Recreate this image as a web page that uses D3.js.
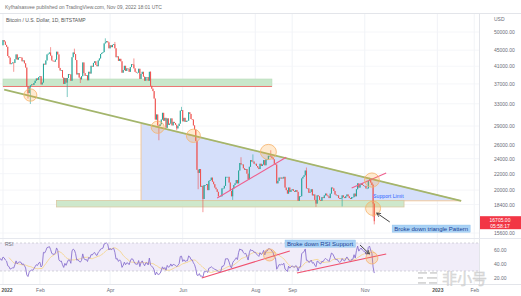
<!DOCTYPE html>
<html><head><meta charset="utf-8">
<script src="https://cdnjs.cloudflare.com/ajax/libs/d3/7.8.5/d3.min.js"></script>
<style>body{margin:0;background:#fff}svg{display:block;font-family:"Liberation Sans",Arial,sans-serif}</style>
</head><body><svg id="c" width="521" height="296"></svg>
<script>
// ---------------- DATA ----------------
const startDate = "2022-01-01";
const prevCloses = [47100,49300,50100,46700,48400,48900,47600,46200,46800,46700,46900,49000,48600,50800,50400,50800,50600,50700,47500,46500,47100,46300];
const closesJan = [47700,47300,46400,45900,43500,43100,41500,41700,41900,41800,42700,43900,42600,43100,43200,43100,42200,42400,41700,40700,36500,35100,36300,36700,36900,36800,37200,37700,38200,37900,38500];
const closesFeb = [38700,36900,37300,41600,41400,42400,43900,44100,44400,43600,42400,42200,42100,42600,44600,43900,40600,40000,40100,38400,37000,38300,37300,38300,39200,39100,37700,43200];
const closesMar = [44400,44000,42500,39100,39400,38400,38000,38700,41900,39400,38800,38900,37800,39700,39300,41100,40900,41800,42200,41300,41000,42400,42900,44000,44300,44500,46800,47100,47400,47100,45500];
const closesApr = [46300,45800,46400,46600,45500,43200,43400,42300,42800,42200,39500,40100,41100,39900,40500,40400,39700,40800,41500,41400,40500,39700,39500,39500,40400,38100,39200,39700,38600,37700];
const closesMay = [38500,38500,37700,39700,36600,36000,35500,34000,30100,31000,29100,29000,29300,30100,31300,29900,30400,28700,30300,29200,29400,30300,29100,29700,29500,29200,28600,29000,29400,31700,31800];
const closesJun = [29800,30400,29700,29900,29900,31400,31100,30200,30100,29100,28400,26600,22500,22100,22600,20400,20500,19000,20600,20600,20700,20000,21100,21200,21500,21000,20700,20300,20100,19800];
const closesJul = [19300,19300,19300,20200,20200,20500,21600,21600,21600,20900,19900,19300,20200,20600,20800,21200,20800,22400,23400,23200,23200,22700,22500,22600,22000,21300,22900,23800,23600,23600,23300];
const closesAug = [23300,23000,22800,22600,23300,23000,23200,23800,23100,23900,23900,24400,24400,24300,24100,23900,23300,23200,20800,21100,21500,21400,21500,21400,21600,20300,20000,19600,20300,19800,20000];
const closesSep = [20100,19900,19800,20000,19800,18800,19300,19300,21400,21600,21800,22400,20200,20200,19700,19800,20100,19400,19500,18900,18500,19400,19300,18900,18800,19200,19100,19400,19600,19400];
const closesOct = [19300,19100,19600,20300,20200,19900,19500,19400,19400,19100,19000,19100,19400,19200,19100,19300,19500,19300,19100,19000,19200,19200,19600,19300,20100,20800,20300,20600,20800,20600,20500];
const closesNov = [20500,20200,20200,21100,21300,20900,20600,18500,16705];

const highDates = ["2022-02-10","2022-03-02","2022-03-28","2022-04-05","2022-04-21","2022-05-05","2022-05-31","2022-07-20","2022-07-30","2022-08-14","2022-09-13","2022-11-05","2022-11-08"];
const highVals  = [45800,45400,48200,47200,42900,39800,32400,24200,24600,25200,22800,21480,20700];
const lowDates  = ["2022-01-10","2022-01-22","2022-01-24","2022-02-24","2022-03-07","2022-05-12","2022-05-27","2022-06-14","2022-06-18","2022-07-13","2022-09-21","2022-10-13","2022-11-08","2022-11-09"];
const lowVals   = [39700,34000,32950,34300,37200,26700,28300,20100,17600,18900,18150,18200,17100,16400];

const priceTicks = [50000,45000,41000,37000,33000,29000,26000,24000,22000,20000,18400,15600];
const rsiTicks = [60,40,20];
const timeTicks = ["2022-01-01","2022-02-01","2022-04-01","2022-06-01","2022-08-01","2022-09-01","2022-11-01","2023-01-01","2023-02-01"];
const timeLabels = ["2022","Feb","Apr","Jun","Aug","Sep","Nov","2023","Feb"];

// drawings (date, price)
const trendDates = ["2022-01-02","2023-01-21"];
const trendPrices = [35800,18800];
const triDates = ["2022-04-27","2022-04-27","2023-01-21"];
const triPrices = [29460,18800,18800];
const topBandDates = ["2022-01-01","2022-08-15"];
const topBandPrices = [38080,36460];
const supBandDates = ["2022-02-15","2022-12-04"];
const supBandPrices = [18830,18140];
const pink1Dates = ["2022-06-30","2022-08-27"];
const pink1Prices = [19100,24200];
const pink2Dates = ["2022-10-21","2022-11-19"];
const pink2Prices = [20250,22090];
const circDates = ["2022-01-24","2022-05-11","2022-06-10","2022-08-12","2022-11-07","2022-11-08"];
const circPrices = [34700,28800,27400,24950,21200,18000];
const rsiCircDates = ["2022-08-13","2022-11-07"];
const rsiCircVals = [52.9,48.6];
const rsiLine1Dates = ["2022-06-17","2022-08-30"];
const rsiLine1Vals = [20,58.6];
const rsiLine2Dates = ["2022-09-05","2022-11-19"];
const rsiLine2Vals = [27.1,54.3];
const arrowDates = ["2022-11-22","2022-11-11"];
const arrowPrices = [16630,17520];
const rsiArrowDates = ["2022-10-28","2022-11-05"];
const rsiArrowVals = [67.1,54.3];
const headerText = "Kyfhalsasvee published on TradingView.com, Nov 09, 2022 18:01 UTC";
const symbolText = "Bitcoin / U.S. Dollar, 1D, BITSTAMP";
const countdownText = "05:58:17";

// ---------------- BUILD ----------------
const closes = [].concat(closesJan,closesFeb,closesMar,closesApr,closesMay,closesJun,closesJul,closesAug,closesSep,closesOct,closesNov);
const d0 = new Date(startDate);
const dayDate = i => new Date(d0.getTime() + i*86400000);
const P = s => new Date(s);
const hiMap = new Map(highDates.map((d,i)=>[d,highVals[i]]));
const loMap = new Map(lowDates.map((d,i)=>[d,lowVals[i]]));
const candles = closes.map((c,i)=>{
  const o = i===0 ? prevCloses[prevCloses.length-1] : closes[i-1];
  const date = dayDate(i);
  const key = date.toISOString().slice(0,10);
  const h = Math.max(o,c, hiMap.get(key)||0);
  const l = Math.min(o,c, loMap.get(key)||Infinity);
  return {date,o,c,h,l};
});

// RSI (Wilder 14) from closes, with Dec-2021 warmup
const all = prevCloses.concat(closes);
const n = 14;
const rsiAll = [];
let ag=0, al=0;
for (let i=1;i<all.length;i++){
  const ch = all[i]-all[i-1], g=Math.max(ch,0), l=Math.max(-ch,0);
  if (i<=n){ ag+=g; al+=l; if(i===n){ag/=n; al/=n; rsiAll[i]=100-100/(1+ag/al);} }
  else { ag=(ag*(n-1)+g)/n; al=(al*(n-1)+l)/n; rsiAll[i]=100-100/(1+ag/al); }
}
const rsiPts = [];
for (let i=0;i<all.length;i++){
  if (rsiAll[i]!==undefined) rsiPts.push({date:dayDate(i-prevCloses.length), v:rsiAll[i]});
}
const maPts = [];
for (let i=n-1;i<rsiPts.length;i++){
  maPts.push({date:rsiPts[i].date, v:d3.mean(rsiPts.slice(i-n+1,i+1),d=>d.v)});
}

// ---------------- SCALES ----------------
const W=521, H=296, plotR=479, mainTop=14, mainBot=238, rsiTop=238, rsiBot=284;
const x = d3.scaleUtc().domain([P("2022-01-01"),P("2023-02-05")]).range([3,479]);
const y = d3.scaleLog().domain([15600,50000]).range([233,32]);
const yR = d3.scaleLinear().domain([30,70]).range([271,243]);

const svg = d3.select("#c");
const defs = svg.append("defs");
defs.append("clipPath").attr("id","cm").append("rect").attr("x",0).attr("y",mainTop).attr("width",plotR).attr("height",mainBot-mainTop);
defs.append("clipPath").attr("id","cr").append("rect").attr("x",0).attr("y",rsiTop).attr("width",plotR).attr("height",rsiBot-rsiTop);
defs.append("marker").attr("id","ah").attr("viewBox","0 0 10 10").attr("refX",9).attr("refY",5)
  .attr("markerWidth",5).attr("markerHeight",5).attr("orient","auto")
  .append("path").attr("d","M1,1 L9,5 L1,9").attr("fill","none").attr("stroke","#444").attr("stroke-width",1.6);

svg.append("rect").attr("width",W).attr("height",H).attr("fill","#fff");

// grid
const grid = svg.append("g");
grid.selectAll("line.v").data(timeTicks).join("line")
  .attr("x1",d=>x(P(d))).attr("x2",d=>x(P(d))).attr("y1",mainTop).attr("y2",rsiBot)
  .attr("stroke","#eef0f5").attr("stroke-width",0.8);
grid.selectAll("line.h").data(priceTicks).join("line")
  .attr("x1",0).attr("x2",plotR).attr("y1",d=>y(d)).attr("y2",d=>y(d))
  .attr("stroke","#f2f4f8").attr("stroke-width",0.8);

// frame lines
svg.append("line").attr("x1",0).attr("x2",W).attr("y1",13.5).attr("y2",13.5).attr("stroke","#e3e5ea");
svg.append("line").attr("x1",plotR+0.5).attr("x2",plotR+0.5).attr("y1",mainTop).attr("y2",rsiBot).attr("stroke","#e3e5ea");
svg.append("line").attr("x1",0).attr("x2",W).attr("y1",rsiTop+0.5).attr("y2",rsiTop+0.5).attr("stroke","#e6e8ee");
svg.append("line").attr("x1",0).attr("x2",W).attr("y1",rsiBot+0.5).attr("y2",rsiBot+0.5).attr("stroke","#e3e5ea");

// ---------- main pane ----------
const main = svg.append("g").attr("clip-path","url(#cm)");

// top resistance band
main.append("rect").attr("x",x(P(topBandDates[0]))).attr("width",x(P(topBandDates[1]))-x(P(topBandDates[0])))
  .attr("y",y(topBandPrices[0])).attr("height",y(topBandPrices[1])-y(topBandPrices[0]))
  .attr("fill","#c9e7cb").attr("stroke","#b9dcbb").attr("stroke-width",0.6);
main.append("line").attr("x1",x(P(topBandDates[0]))).attr("x2",x(P(topBandDates[1])))
  .attr("y1",y(topBandPrices[1])).attr("y2",y(topBandPrices[1])).attr("stroke","#ef6b6b").attr("stroke-width",0.9);

// triangle
const triPts = triDates.map((d,i)=>[x(P(d)),y(triPrices[i])]);
main.append("path").attr("d",d3.line()(triPts)+"Z")
  .attr("fill","#d5dffa").attr("stroke","#f3c592").attr("stroke-width",0.9);

// support band
main.append("rect").attr("x",x(P(supBandDates[0]))).attr("width",x(P(supBandDates[1]))-x(P(supBandDates[0])))
  .attr("y",y(supBandPrices[0])).attr("height",y(supBandPrices[1])-y(supBandPrices[0]))
  .attr("fill","#c9e5c6").attr("fill-opacity",0.9).attr("stroke","#d9c9a2").attr("stroke-width",0.8);

// candles
const cg = main.append("g");
const up="#26a69a", dn="#ef5350";
cg.selectAll("line").data(candles).join("line")
  .attr("x1",d=>x(d.date)).attr("x2",d=>x(d.date)).attr("y1",d=>y(d.h)).attr("y2",d=>y(d.l))
  .attr("stroke",d=>d.c>=d.o?up:dn).attr("stroke-width",0.6);
cg.selectAll("rect").data(candles).join("rect")
  .attr("x",d=>x(d.date)-0.5).attr("width",1)
  .attr("y",d=>y(Math.max(d.o,d.c))).attr("height",d=>Math.max(0.7,Math.abs(y(d.o)-y(d.c))))
  .attr("fill",d=>d.c>=d.o?up:dn);

// olive descending trendline
main.append("line").attr("x1",x(P(trendDates[0]))).attr("y1",y(trendPrices[0]))
  .attr("x2",x(P(trendDates[1]))).attr("y2",y(trendPrices[1]))
  .attr("stroke","#a3b56c").attr("stroke-width",1.8);

// pink support lines
[[pink1Dates,pink1Prices],[pink2Dates,pink2Prices]].forEach(([ds,ps])=>{
  main.append("line").attr("x1",x(P(ds[0]))).attr("y1",y(ps[0])).attr("x2",x(P(ds[1]))).attr("y2",y(ps[1]))
    .attr("stroke","#ef5f8e").attr("stroke-width",1.1);
});

// highlight circles
const circR = [6.5,6.5,7,8,7.5,7.5];
main.selectAll("ellipse").data(circDates).join("ellipse")
  .attr("cx",d=>x(P(d))).attr("cy",(d,i)=>y(circPrices[i]))
  .attr("rx",(d,i)=>circR[i]).attr("ry",(d,i)=>circR[i]*0.95)
  .attr("fill","rgba(255,160,40,0.22)").attr("stroke","#f6b26b").attr("stroke-width",0.8);

// Support Limit text
main.append("text").attr("x",x(P("2022-11-08"))).attr("y",y(19330)).attr("dy","0.35em")
  .attr("font-size",5.2).attr("fill","#2962ff").text("Support Limit");

// arrow
svg.append("line").attr("x1",x(P(arrowDates[0]))).attr("y1",y(arrowPrices[0]))
  .attr("x2",x(P(arrowDates[1]))).attr("y2",y(arrowPrices[1]))
  .attr("stroke","#444").attr("stroke-width",1).attr("marker-end","url(#ah)");

function labelBox(text, date, val, sc, size){
  const g = svg.append("g");
  const bx = x(P(date));
  const t = g.append("text").attr("x",bx+2).attr("y",sc(val)).attr("dy","0.35em")
    .attr("font-size",size).attr("fill","#1c3f94").text(text);
  const bb = t.node().getBBox();
  g.insert("rect","text").attr("x",bx).attr("y",bb.y-0.6).attr("width",bb.width+4).attr("height",bb.height+1.2)
    .attr("fill","#a9d2f5").attr("stroke","#8cbfec").attr("stroke-width",0.4);
}
labelBox("Broke down triangle Pattern","2022-11-24",16010,y,6);

// ---------- RSI pane ----------
svg.append("rect").attr("x",0).attr("width",plotR).attr("y",yR(70)).attr("height",yR(30)-yR(70))
  .attr("fill","#f1edf9");
[70,30].forEach(v=>svg.append("line").attr("x1",0).attr("x2",plotR).attr("y1",yR(v)).attr("y2",yR(v))
  .attr("stroke","#b8b9c2").attr("stroke-width",0.6).attr("stroke-dasharray","2,2"));
const rg = svg.append("g").attr("clip-path","url(#cr)");
rg.append("path").datum(maPts).attr("d",d3.line().x(d=>x(d.date)).y(d=>yR(d.v)))
  .attr("fill","none").attr("stroke","#f5d58c").attr("stroke-width",0.9);
rg.append("path").datum(rsiPts).attr("d",d3.line().x(d=>x(d.date)).y(d=>yR(d.v)))
  .attr("fill","none").attr("stroke","#8a72cf").attr("stroke-width",0.9);
[[rsiLine1Dates,rsiLine1Vals],[rsiLine2Dates,rsiLine2Vals]].forEach(([ds,vs])=>{
  rg.append("line").attr("x1",x(P(ds[0]))).attr("y1",yR(vs[0])).attr("x2",x(P(ds[1]))).attr("y2",yR(vs[1]))
    .attr("stroke","#f0506e").attr("stroke-width",1.1);
});
rg.selectAll("ellipse").data(rsiCircDates).join("ellipse")
  .attr("cx",d=>x(P(d))).attr("cy",(d,i)=>yR(rsiCircVals[i])).attr("rx",6).attr("ry",6)
  .attr("fill","rgba(255,160,40,0.22)").attr("stroke","#f6b26b").attr("stroke-width",0.8);
svg.append("text").attr("x",5).attr("y",246).attr("font-size",5).attr("fill","#6a6d78").text("RSI");
svg.append("line").attr("x1",x(P(rsiArrowDates[0]))).attr("y1",yR(rsiArrowVals[0]))
  .attr("x2",x(P(rsiArrowDates[1]))).attr("y2",yR(rsiArrowVals[1]))
  .attr("stroke","#444").attr("stroke-width",1).attr("marker-end","url(#ah)");
labelBox("Broke down RSI Support","2022-08-26",69.3,yR,6);

// ---------- axes ----------
const fmt = d=>d.toFixed(2);
const ya = svg.append("g").attr("transform","translate(494,0)")
  .call(d3.axisRight(y).tickValues(priceTicks).tickFormat(fmt).tickSize(0).tickPadding(0));
const yra = svg.append("g").attr("transform","translate(494,0)")
  .call(d3.axisRight(yR).tickValues(rsiTicks).tickFormat(fmt).tickSize(0).tickPadding(0));
const xa = svg.append("g").attr("transform",`translate(0,${rsiBot})`)
  .call(d3.axisBottom(x).tickValues(timeTicks.map(P)).tickFormat((d,i)=>timeLabels[i]).tickSize(0).tickPadding(4));
[ya,yra,xa].forEach(g=>{
  g.select(".domain").remove();
  g.selectAll("text").attr("font-size",5).attr("fill","#6a6d78").attr("font-family","Liberation Sans, Arial, sans-serif");
});
xa.selectAll("text").filter((d,i)=>/^\d{4}$/.test(timeLabels[i])).attr("font-weight","bold").attr("fill","#555");
// keep the first (year) label inside the picture
xa.selectAll("text").filter((d,i)=>i===0).attr("text-anchor","start").attr("x",-2);
svg.append("text").attr("x",494).attr("y",21).attr("font-size",5).attr("fill","#6a6d78").text("USD");

// header
svg.append("text").attr("x",5).attr("y",9).attr("font-size",5).attr("fill","#6f6f6f").text(headerText);
svg.append("text").attr("x",6).attr("y",22).attr("font-size",5).attr("fill","#555").text(symbolText);

// last price label
const last = candles[candles.length-1];
const ly = y(last.c);
svg.append("rect").attr("x",480).attr("y",ly-5).attr("width",41).attr("height",13).attr("fill","#f23645");
svg.append("text").attr("x",500).attr("y",ly+1.2).attr("text-anchor","middle").attr("font-size",5).attr("fill","#fff").text(fmt(last.c));
svg.append("text").attr("x",500).attr("y",ly+6.6).attr("text-anchor","middle").attr("font-size",5).attr("fill","#fff").text(countdownText);

// watermark (kept clear of the axis labels)
const wm = svg.append("g").attr("opacity",0.75);
[[418,272,9],[430,272,7],[418,277,5],[427,277,10],[418,282,8],[429,282,8]].forEach(([bx,by,bw])=>
  wm.append("rect").attr("x",bx).attr("y",by).attr("width",bw).attr("height",1.8).attr("fill","#c9c9c9"));
wm.append("text").attr("x",442).attr("y",284).attr("font-size",15)
  .attr("font-family","Noto Sans CJK SC").attr("fill","#d4d4d4").attr("stroke","#bdbdbd").attr("stroke-width",0.4).text("非小号");
</script></body></html>
